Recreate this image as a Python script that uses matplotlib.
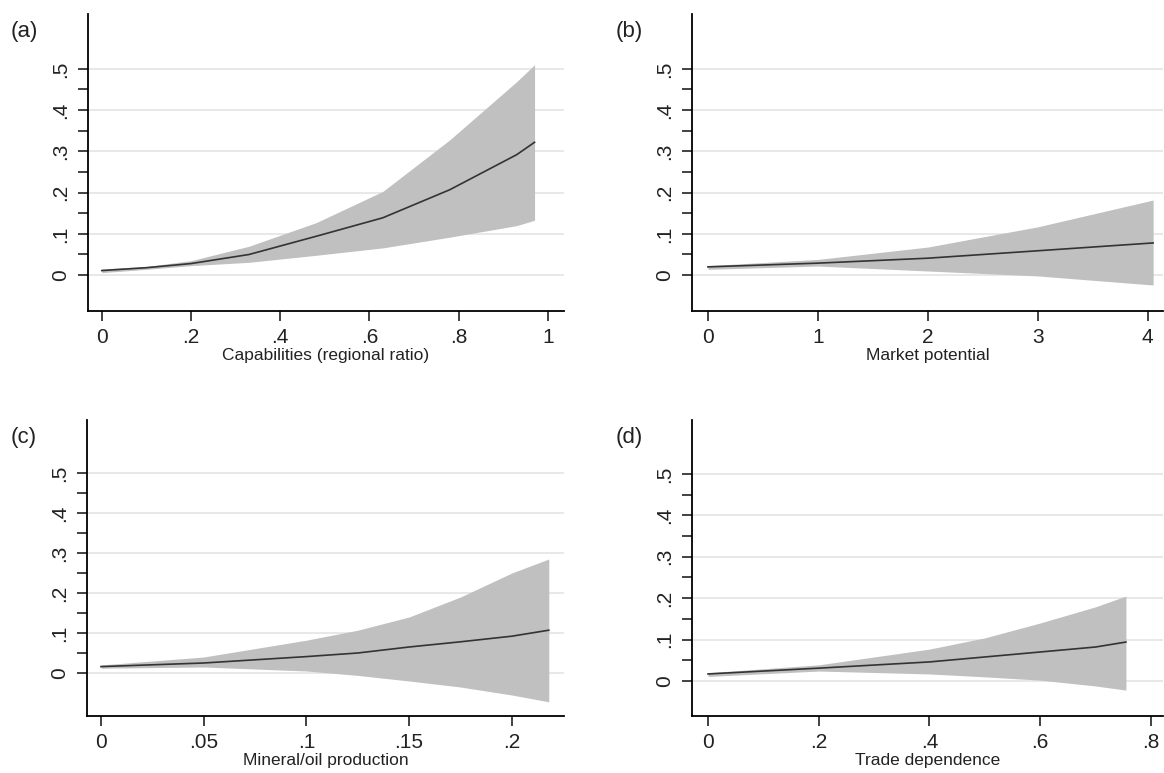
import matplotlib
matplotlib.use("Agg")
import matplotlib.pyplot as plt
import numpy as np
from matplotlib.ticker import FixedLocator, FuncFormatter

plt.rcParams['font.family'] = ['Liberation Sans', 'DejaVu Sans']

# ---- data ----
a_x = [0, .1, .2, .33, .48, .63, .78, .93, .97]
a_mean = [.011, .018, .028, .050, .094, .139, .207, .292, .322]
a_hi = [.015, .021, .035, .070, .127, .203, .328, .469, .510]
a_lo = [.006, .014, .023, .031, .048, .066, .092, .120, .133]

b_x = [0, 1, 2, 3, 4.05]
b_mean = [.020, .029, .041, .059, .078]
b_hi = [.023, .038, .068, .117, .182]
b_lo = [.014, .022, .010, -.002, -.024]

c_x = [0, .05, .1, .125, .15, .175, .2, .218]
c_mean = [.016, .025, .041, .050, .065, .078, .092, .107]
c_hi = [.020, .040, .082, .107, .140, .190, .250, .285]
c_lo = [.012, .015, .005, -.006, -.020, -.035, -.055, -.072]

d_x = [0, .2, .4, .5, .6, .7, .755]
d_mean = [.017, .031, .046, .058, .070, .082, .094]
d_hi = [.020, .039, .077, .104, .140, .179, .205]
d_lo = [.011, .024, .017, .010, .002, -.012, -.022]

panel_letters = ['(a)', '(b)', '(c)', '(d)']
xlabels = ['Capabilities (regional ratio)', 'Market potential',
           'Mineral/oil production', 'Trade dependence']
xticks = [[0, .2, .4, .6, .8, 1], [0, 1, 2, 3, 4],
          [0, .05, .1, .15, .2], [0, .2, .4, .6, .8]]
yticks = [0, .1, .2, .3, .4, .5]
yminor = [.05, .15, .25, .35, .45]

def stata_fmt(v, pos=None):
    if abs(v) < 1e-12:
        return '0'
    s = ('%g' % v)
    if s.startswith('0.'):
        s = s[1:]
    return s

W, H = 1164, 773
fig = plt.figure(figsize=(W / 100, H / 100), dpi=100)

# axes rectangles in pixels: left, right, top, bottom
rects = [(88, 564, 14, 311), (692, 1163, 14, 311),
         (87, 564, 420, 716), (692, 1163, 420, 716)]
xlims = [(-0.031, 1.036), (-0.145, 4.14), (-0.0068, 0.2254), (-0.029, 0.822)]
ylims = [(-0.087, 0.633), (-0.087, 0.633), (-0.1075, 0.6325), (-0.0845, 0.630)]
letter_pos = [(24, 32), (629, 32), (24, 438), (629, 438)]

data = [(a_x, a_mean, a_hi, a_lo), (b_x, b_mean, b_hi, b_lo),
        (c_x, c_mean, c_hi, c_lo), (d_x, d_mean, d_hi, d_lo)]

for i in range(4):
    l, r, t, b = rects[i]
    ax = fig.add_axes([l / W, 1 - b / H, (r - l) / W, (b - t) / H])
    x, m, hi, lo = data[i]
    ax.fill_between(x, lo, hi, color='#c0c0c0', linewidth=0, zorder=2)
    ax.plot(x, m, color='#333333', linewidth=1.2, zorder=3)
    ax.set_xlim(*xlims[i])
    ax.set_ylim(*ylims[i])
    for yv in yticks:
        ax.axhline(yv, color='#e6e6e6', linewidth=1.3, zorder=1)
    ax.spines['top'].set_visible(False)
    ax.spines['right'].set_visible(False)
    ax.spines['left'].set_linewidth(1.3)
    ax.spines['bottom'].set_linewidth(1.3)
    ax.xaxis.set_major_locator(FixedLocator(xticks[i]))
    ax.xaxis.set_major_formatter(FuncFormatter(stata_fmt))
    ax.yaxis.set_major_locator(FixedLocator(yticks))
    ax.yaxis.set_minor_locator(FixedLocator(yminor))
    ax.yaxis.set_major_formatter(FuncFormatter(stata_fmt))
    ax.tick_params(axis='both', which='both', direction='out', length=7,
                   width=1.2, color='#222222', labelsize=15, labelcolor='#222222')
    ax.tick_params(axis='y', labelrotation=90, pad=6)
    ax.tick_params(axis='x', pad=5)
    for lab in ax.get_yticklabels():
        lab.set_va('center')
    ax.set_xlabel(xlabels[i], fontsize=12.5, labelpad=1, color='#222222')
    fig.text(letter_pos[i][0] / W, 1 - letter_pos[i][1] / H, panel_letters[i],
             fontsize=16, ha='center', va='center', color='#222222')

fig.savefig('out.png', dpi=100, facecolor='white')
